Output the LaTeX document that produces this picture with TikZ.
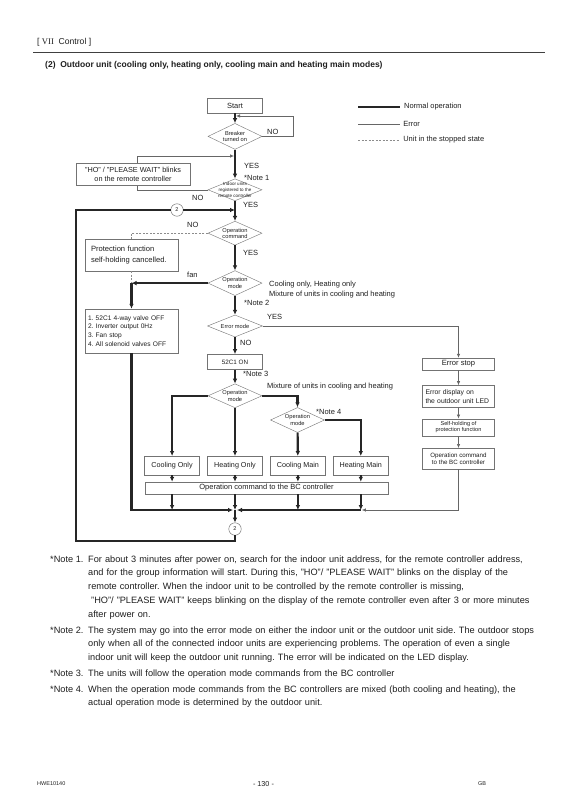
\documentclass[tikz,border=0pt]{standalone}
\usepackage{fontspec}
\setmainfont{Liberation Sans}
\newfontfamily\romanfont{Liberation Serif}
\frenchspacing
\usetikzlibrary{positioning, shapes.geometric, arrows.meta, calc}
\tikzset{
    x=1pt, y=-1pt, % page units, counted from the top
    >={Latex[length=5pt,width=4.6pt]}, % filled heads on the flow lines
    every node/.style={text=black!88},
    stepbox/.style={draw=black!55, fill=white, inner sep=1pt, minimum width=55pt, minimum height=15pt, font=\fontsize{7.2}{8.6}\selectfont, align=center},
    notebox/.style={stepbox, align=left, inner xsep=6pt},
    decision/.style={diamond, draw=black!55, fill=white, inner sep=0pt, minimum width=54pt, minimum height=25pt},
    dtext/.style={font=\fontsize{5.7}{6.4}\selectfont, align=center, inner sep=0pt},
    lbl/.style={font=\fontsize{7.5}{10}\selectfont, inner sep=0pt, anchor=west},
    joint/.style={circle, draw=black!60, fill=white, minimum size=12.5pt, inner sep=0pt, font=\fontsize{5.5}{6}\selectfont},
    notetag/.style={font=\fontsize{9.2}{13.8}\selectfont, inner sep=0pt, anchor=base west},
    notetext/.style={notetag, text width=480pt, align=left},
}
\tikzstyle{normal} = [line width=2.2pt, draw=black!85, ->]
\tikzstyle{errline} = [line width=0.6pt, draw=black!60, -{Latex[length=4pt,width=3.4pt]}]
\tikzstyle{stopline} = [line width=0.6pt, draw=black!45, dash pattern=on 2pt off 1.5pt]

\begin{document}
\begin{tikzpicture}
    \path[use as bounding box, fill=white] (0,0) rectangle (569,805);

    % page head
    \node[anchor=base west, font=\fontsize{8.6}{10}\selectfont, inner sep=0pt] (chapter) at (37,45) {[ {\romanfont VII}\ \ Control ]};
    \draw[line width=0.8pt, black!75] (33,52) -- (545,52);
    \node[anchor=base west, font=\bfseries\fontsize{8.5}{10}\selectfont, inner sep=0pt] (title) at (45,68) {(2)\ \ Outdoor unit (cooling only, heating only, cooling main and heating main modes)};

    % main column
    \node[stepbox, font=\fontsize{7.5}{9}\selectfont] (start) at (235,105.5) {Start};
    \node[decision, minimum height=26pt, label={[dtext]center:Breaker\\turned on}] (breaker) [below=10pt of start] {};
    \node[decision, minimum height=22pt, label={[dtext, font=\fontsize{4.5}{5.6}\selectfont]center:Indoor units\\registered to the\\remote controller}] (indoor) [below=29pt of breaker] {};
    \node[decision, minimum height=24pt, label={[dtext]center:Operation\\command}] (opcmd) [below=20pt of indoor] {};
    \node[decision, label={[dtext]center:Operation\\mode}] (opmode1) [below=25pt of opcmd] {};
    \node[decision, minimum width=55pt, minimum height=22pt, label={[dtext]center:Error mode}] (errmode) [below=19pt of opmode1] {};
    \node[stepbox, font=\fontsize{6.3}{7.5}\selectfont] (c1on) [below=17pt of errmode] {52C1 ON};
    \node[decision, minimum height=24pt, label={[dtext]center:Operation\\mode}] (opmode2) [below=14pt of c1on] {};
    \node[decision, label={[dtext]center:Operation\\mode}] (opmode3) at (297.5,420) {};

    % operating modes
    \node[stepbox, minimum height=19pt] (heatonly) [below=48pt of opmode2] {Heating Only};
    \node[stepbox, minimum height=19pt] (coolonly) [left=7.5pt of heatonly] {Cooling Only};
    \node[stepbox, minimum height=19pt] (coolmain) [right=7.5pt of heatonly] {Cooling Main};
    \node[stepbox, minimum height=19pt] (heatmain) [right=7.5pt of coolmain] {Heating Main};
    \node[stepbox, minimum width=243pt, minimum height=12pt, inner sep=0pt, font=\fontsize{7.5}{9}\selectfont] (bc) at (266.5,488) {Operation command to the BC controller};

    % left side
    \node[notebox, text width=81pt, minimum height=32pt, font=\fontsize{7.6}{10.5}\selectfont] (prot) at (131.5,255) {Protection function\\self-holding cancelled.};
    \node[notebox, text width=87pt, inner xsep=3pt, minimum height=44pt, font=\fontsize{6.6}{8.8}\selectfont] (off) at (131.5,331) {1. 52C1 4-way valve OFF\\2. Inverter output 0Hz\\3. Fan stop\\4. All solenoid valves OFF};
    \node[joint] (top2) at (177,210) {2};
    \node[joint] (bottom2) at (235,529) {2};

    % error side
    \node[stepbox, minimum width=72pt, minimum height=12pt, inner sep=0pt, font=\fontsize{7.6}{9}\selectfont] (errstop) at (458.5,364) {Error stop};
    \node[notebox, text width=66pt, inner xsep=3pt, minimum height=22pt, font=\fontsize{6.8}{8.4}\selectfont] (errdisp) [below=15pt of errstop] {Error display on\\the outdoor unit LED};
    \node[stepbox, minimum width=72pt, minimum height=17pt, inner sep=0pt, font=\fontsize{5.6}{6.4}\selectfont] (selfhold) [below=11pt of errdisp] {Self-holding of\\protection function};
    \node[stepbox, minimum width=72pt, minimum height=21pt, inner sep=0pt, font=\fontsize{6.2}{7.4}\selectfont] (opcmdbc) [below=12pt of selfhold] {Operation command\\to the BC controller};

    \coordinate (breakin) at (235,116);
    \coordinate (hoin) at (235,156);
    \coordinate (loopin) at (235,210);
    \coordinate (fancorner) at (opmode1.west -| off.north);
    \coordinate (collect) at (235,510);

    % connectors
    \draw[normal] (start) -- (breaker);
    \draw[errline, shorten >=1pt] (breaker.east) -- ++(31,0) |- (breakin);
    \draw[normal] (breaker) -- (indoor);
    \draw[errline, shorten >=1pt] (indoor.west) -- ++(-71,0) |- (hoin);
    \draw[normal] (indoor) -- (opcmd);
    \draw[normal] (top2.east) -- (loopin);
    \draw[normal] (opcmd) -- (opmode1);
    \draw[stopline] (opcmd.west) -| (prot.north);
    \draw[stopline] (prot.south) -- (fancorner);
    \draw[normal] (opmode1.west) -- (fancorner);
    \draw[normal] (fancorner) -- (off.north);
    \draw[normal] (opmode1) -- (errmode);
    \draw[normal] (errmode) -- (c1on);
    \draw[errline] (errmode.east) -| (errstop.north);
    \draw[normal] (c1on) -- (opmode2);
    \draw[normal] (opmode2.west) -| (coolonly.north);
    \draw[normal] (opmode2) -- (heatonly);
    \draw[normal] (opmode2.east) -| (opmode3.north);
    \draw[normal] (opmode3) -- (coolmain);
    \draw[normal] (opmode3.east) -| (heatmain.north);
    \foreach \m in {coolonly, heatonly, coolmain, heatmain}
        \draw[normal] (\m.south) -- (\m.south |- bc.north);
    \foreach \m in {coolonly, coolmain, heatmain}
        \draw[normal] (\m.south |- bc.south) -- (\m.south |- collect);
    \draw[normal] (heatonly.south |- bc.south) -- (collect);
    \draw[normal, shorten >=2pt] (off.south) |- (collect);
    \draw[normal, shorten >=2pt] (heatmain.south |- collect) -- (collect);
    \draw[normal] (collect) -- (bottom2.north);
    \draw[line width=2.2pt, black!85] (bottom2.south) |- (76,541) |- (top2.west);
    \draw[errline] (errstop) -- (errdisp);
    \draw[errline] (errdisp) -- (selfhold);
    \draw[errline] (selfhold) -- (opcmdbc);
    \draw[errline, shorten >=1pt] (opcmdbc.south) |- (heatmain.south |- collect);

    % drawn last so that it hides the loop behind it
    \node[stepbox, minimum width=114pt, minimum height=22pt, font=\fontsize{7.3}{9.2}\selectfont] (ho) at (133,174) {"HO" / "PLEASE WAIT" blinks\\on the remote controller};

    % branch labels
    \node[lbl] (nobreak) at (267,132) {NO};
    \node[lbl] (yesbreak) at (244,166) {YES};
    \node[lbl] (note1) at (244,178) {*Note 1};
    \node[lbl] (noindoor) at (192,198) {NO};
    \node[lbl] (yesindoor) at (243,205) {YES};
    \node[lbl] (nocmd) at (187,225) {NO};
    \node[lbl] (yescmd) at (243,253) {YES};
    \node[lbl] (fan) at (187,275) {fan};
    \node[lbl, align=left] (modes) at (269,290) {Cooling only, Heating only\\Mixture of units in cooling and heating};
    \node[lbl] (note2) at (244,303) {*Note 2};
    \node[lbl] (yeserr) at (267,317) {YES};
    \node[lbl] (noerr) at (240,343) {NO};
    \node[lbl] (note3) at (243,374) {*Note 3};
    \node[lbl] (mixture) at (267,387) {Mixture of units in cooling and heating};
    \node[lbl] (note4) at (316,412) {*Note 4};

    % legend
    \draw[line width=2.2pt, black!85] (358,107) -- (400,107) node[lbl, right=3pt] (lgnormal) {Normal operation};
    \draw[line width=0.6pt, black!60] (358,124) -- (400,124) node[lbl, right=3pt] (lgerror) {Error};
    \draw[stopline] (358,140) -- (400,140) node[lbl, right=3pt] (lgstop) {Unit in the stopped state};

    % notes
    \node[notetag] (tag1) at (50,562) {*Note 1.};
    \node[notetext] (body1) at (88,562) {For about 3 minutes after power on, search for the indoor unit address, for the remote controller address,\\and for the group information will start. During this, "HO"/ "PLEASE WAIT" blinks on the display of the\\remote controller. When the indoor unit to be controlled by the remote controller is missing,\\\hspace*{3pt}"HO"/ "PLEASE WAIT" keeps blinking on the display of the remote controller even after 3 or more minutes\\after power on.};
    \node[notetag] (tag2) at (50,633) {*Note 2.};
    \node[notetext] (body2) at (88,633) {The system may go into the error mode on either the indoor unit or the outdoor unit side. The outdoor stops\\only when all of the connected indoor units are experiencing problems. The operation of even a single\\indoor unit will keep the outdoor unit running. The error will be indicated on the LED display.};
    \node[notetag] (tag3) at (50,676) {*Note 3.};
    \node[notetext] (body3) at (88,676) {The units will follow the operation mode commands from the BC controller};
    \node[notetag] (tag4) at (50,692) {*Note 4.};
    \node[notetext] (body4) at (88,692) {When the operation mode commands from the BC controllers are mixed (both cooling and heating), the\\actual operation mode is determined by the outdoor unit.};

    % page foot
    \node[anchor=base west, font=\fontsize{5.5}{6.6}\selectfont, inner sep=0pt] (docno) at (37,785) {HWE10140};
    \node[anchor=base, font=\fontsize{7.2}{8.4}\selectfont, inner sep=0pt] (pageno) at (263.5,786) {- 130 -};
    \node[anchor=base west, font=\fontsize{5.5}{6.6}\selectfont, inner sep=0pt] (lang) at (478,785) {GB};
\end{tikzpicture}
\end{document}
